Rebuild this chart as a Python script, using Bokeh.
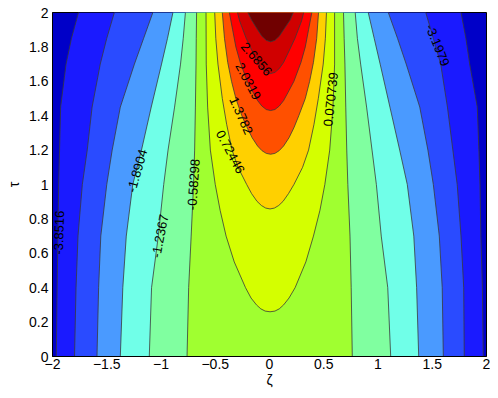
from bokeh.plotting import figure
from bokeh.models import Range1d, FixedTicker, ColumnDataSource
from bokeh.core.properties import value
from bokeh.embed import file_html
from bokeh.resources import INLINE

# contour levels (as labelled in the chart)
levels = [-3.8516, -3.1979, -2.5442, -1.8904, -1.2367, -0.58298,
          0.070739, 0.72446, 1.3782, 2.0319, 2.6856, 3.3393]

# band colours, lowest band first
band_colors = ["#0000c8", "#1a1aff", "#2a4bff", "#4a9aff", "#70ffe8", "#80ffa0",
               "#a0ff30", "#d4ff00", "#ffd000", "#ff5000", "#ff0000", "#d00000", "#700000"]

# side contours (levels 0..5): zeta of left / right branch at these tau
side_tau = [0.0, 0.4, 0.7, 1.0, 1.2, 1.45, 1.7, 1.85, 2.0]
L0_left = [-1.965, -1.957, -1.950, -1.943, -1.935, -1.925, -1.875, -1.825, -1.76]
L0_right = [1.970, 1.962, 1.948, 1.940, 1.930, 1.915, 1.845, 1.81, 1.765]
L1_left = [-1.797, -1.783, -1.765, -1.725, -1.68, -1.635, -1.56, -1.50, -1.43]
L1_right = [1.795, 1.79, 1.765, 1.73, 1.69, 1.64, 1.578, 1.51, 1.44]
L2_left = [-1.590, -1.575, -1.555, -1.50, -1.45, -1.375, -1.245, -1.16, -1.075]
L2_right = [1.602, 1.592, 1.565, 1.51, 1.46, 1.385, 1.26, 1.18, 1.095]
L3_left = [-1.375, -1.352, -1.32, -1.26, -1.18, -1.09, -0.995, -0.94, -0.89]
L3_right = [1.375, 1.356, 1.33, 1.27, 1.20, 1.11, 1.02, 0.965, 0.91]
L4_left = [-1.108, -1.087, -1.025, -0.975, -0.935, -0.875, -0.82, -0.795, -0.775]
L4_right = [1.117, 1.090, 1.030, 0.985, 0.945, 0.895, 0.84, 0.81, 0.79]
L5_left = [-0.760, -0.745, -0.722, -0.700, -0.690, -0.683, -0.677, -0.675, -0.672]
L5_right = [0.763, 0.753, 0.742, 0.722, 0.712, 0.703, 0.695, 0.688, 0.682]

# closed-bottom (U shaped) contours (levels 6..11)
L6_tau = [0.26, 0.264, 0.277, 0.30, 0.34, 0.40, 0.55, 0.70, 0.85, 1.0, 1.2, 1.45, 1.7, 2.0]
L6_left = [0.005, -0.04, -0.08, -0.12, -0.17, -0.221, -0.325, -0.40, -0.455, -0.50, -0.545, -0.570, -0.583, -0.585]
L6_right = [0.005, 0.05, 0.09, 0.13, 0.18, 0.236, 0.335, 0.405, 0.465, 0.51, 0.555, 0.585, 0.60, 0.60]
L7_tau = [0.858, 0.863, 0.878, 0.902, 0.947, 1.0, 1.1, 1.2, 1.35, 1.5, 1.7, 1.85, 2.0]
L7_left = [0.005, -0.035, -0.075, -0.115, -0.165, -0.21, -0.29, -0.345, -0.395, -0.435, -0.475, -0.495, -0.505]
L7_right = [0.005, 0.045, 0.085, 0.125, 0.175, 0.225, 0.305, 0.36, 0.41, 0.45, 0.495, 0.515, 0.525]
L8_tau = [1.176, 1.181, 1.197, 1.224, 1.272, 1.33, 1.4, 1.5, 1.6, 1.71, 1.85, 2.0]
L8_left = [0.01, -0.03, -0.07, -0.11, -0.16, -0.205, -0.255, -0.31, -0.35, -0.385, -0.415, -0.435]
L8_right = [0.01, 0.05, 0.09, 0.13, 0.18, 0.225, 0.27, 0.33, 0.37, 0.405, 0.435, 0.452]
L9_tau = [1.43, 1.436, 1.456, 1.488, 1.546, 1.6, 1.71, 1.8, 1.9, 2.0]
L9_left = [0.01, -0.03, -0.07, -0.11, -0.16, -0.205, -0.27, -0.31, -0.34, -0.37]
L9_right = [0.01, 0.05, 0.09, 0.13, 0.18, 0.225, 0.29, 0.33, 0.36, 0.39]
L10_tau = [1.645, 1.652, 1.674, 1.71, 1.776, 1.85, 1.95, 2.0]
L10_left = [0.01, -0.03, -0.07, -0.11, -0.16, -0.215, -0.275, -0.295]
L10_right = [0.01, 0.05, 0.09, 0.13, 0.18, 0.235, 0.295, 0.315]
L11_tau = [1.83, 1.838, 1.862, 1.90, 1.956, 2.0]
L11_left = [0.01, -0.03, -0.07, -0.11, -0.165, -0.20]
L11_right = [0.01, 0.05, 0.09, 0.13, 0.19, 0.22]

# inline contour labels
label_text = ["-3.8516", "-1.8904", "-1.2367", "-0.58298", "0.72446",
              "1.3782", "2.0319", "2.6856", "0.070739", "-3.1979"]
label_zeta = [-1.94, -1.22, -1.01, -0.70, -0.36, -0.26, -0.195, -0.12, 0.563, 1.55]
label_tau = [0.72, 1.08, 0.70, 1.0, 1.19, 1.40, 1.60, 1.73, 1.495, 1.81]
label_angle = [88, 74, 79, 86, -62, -66, -62, -49, 84, -68]

x_ticks = [-2, -1.5, -1, -0.5, 0, 0.5, 1, 1.5, 2]
x_tick_labels = ["\u22122", "\u22121.5", "\u22121", "\u22120.5", "0", "0.5", "1", "1.5", "2"]
y_ticks = [0, 0.2, 0.4, 0.6, 0.8, 1, 1.2, 1.4, 1.6, 1.8, 2]
y_tick_labels = ["0", "0.2", "0.4", "0.6", "0.8", "1", "1.2", "1.4", "1.6", "1.8", "2"]

side = [(L0_left, L0_right), (L1_left, L1_right), (L2_left, L2_right),
        (L3_left, L3_right), (L4_left, L4_right), (L5_left, L5_right)]
ushape = [(L6_tau, L6_left, L6_right), (L7_tau, L7_left, L7_right),
          (L8_tau, L8_left, L8_right), (L9_tau, L9_left, L9_right),
          (L10_tau, L10_left, L10_right), (L11_tau, L11_left, L11_right)]

FONT = "Liberation Sans"
p = figure(width=490, height=390, x_range=Range1d(-2, 2), y_range=Range1d(0, 2),
           output_backend="svg", toolbar_location=None,
           min_border_left=52, min_border_right=4, min_border_top=12, min_border_bottom=32)
p.background_fill_color = band_colors[0]
p.border_fill_color = "white"
p.grid.visible = False
p.outline_line_color = "black"
p.outline_line_width = 1

line_color = "#3a3a3a"
line_w = 0.8

for k, (lft, rgt) in enumerate(side):
    xs = list(reversed(lft)) + list(rgt)
    ys = list(reversed(side_tau)) + list(side_tau)
    p.patch(xs, ys, fill_color=band_colors[k + 1], line_color=None)
    p.multi_line([list(lft), list(rgt)], [side_tau, side_tau], line_color=line_color, line_width=line_w)

for j, (tt, lft, rgt) in enumerate(ushape):
    k = 6 + j
    xs = list(reversed(lft)) + list(rgt[1:])
    ys = list(reversed(tt)) + list(tt[1:])
    p.patch(xs, ys, fill_color=band_colors[k + 1], line_color=None)
    p.line(xs, ys, line_color=line_color, line_width=line_w)

src = ColumnDataSource(dict(x=label_zeta, y=label_tau, t=label_text, a=label_angle))
p.text(x="x", y="y", text="t", angle="a", angle_units="deg", source=src,
       text_align="center", text_baseline="middle", text_color="black",
       text_font=value(FONT), text_font_size="13px")

p.xaxis.ticker = FixedTicker(ticks=x_ticks)
p.xaxis.major_label_overrides = dict(zip(x_ticks, x_tick_labels))
p.yaxis.ticker = FixedTicker(ticks=y_ticks)
p.yaxis.major_label_overrides = dict(zip(y_ticks, y_tick_labels))
for ax in (p.xaxis, p.yaxis):
    ax.major_tick_in = 0
    ax.major_tick_out = 0
    ax.minor_tick_line_color = None
    ax.axis_line_color = "black"
    ax.major_label_text_font = FONT
    ax.major_label_text_font_size = "14px"
    ax.major_label_text_color = "black"
    ax.axis_label_text_font = FONT
    ax.axis_label_text_font_style = "normal"
    ax.axis_label_text_font_size = "14px"
    ax.axis_label_text_color = "black"
p.xaxis.axis_label = "\u03b6"
p.yaxis.axis_label = "\u03c4"
p.xaxis.major_label_standoff = 2
p.xaxis.axis_label_standoff = 0
p.yaxis.major_label_standoff = 4
p.yaxis.axis_label_standoff = 4

open("out.html", "w").write(file_html(p, INLINE))
